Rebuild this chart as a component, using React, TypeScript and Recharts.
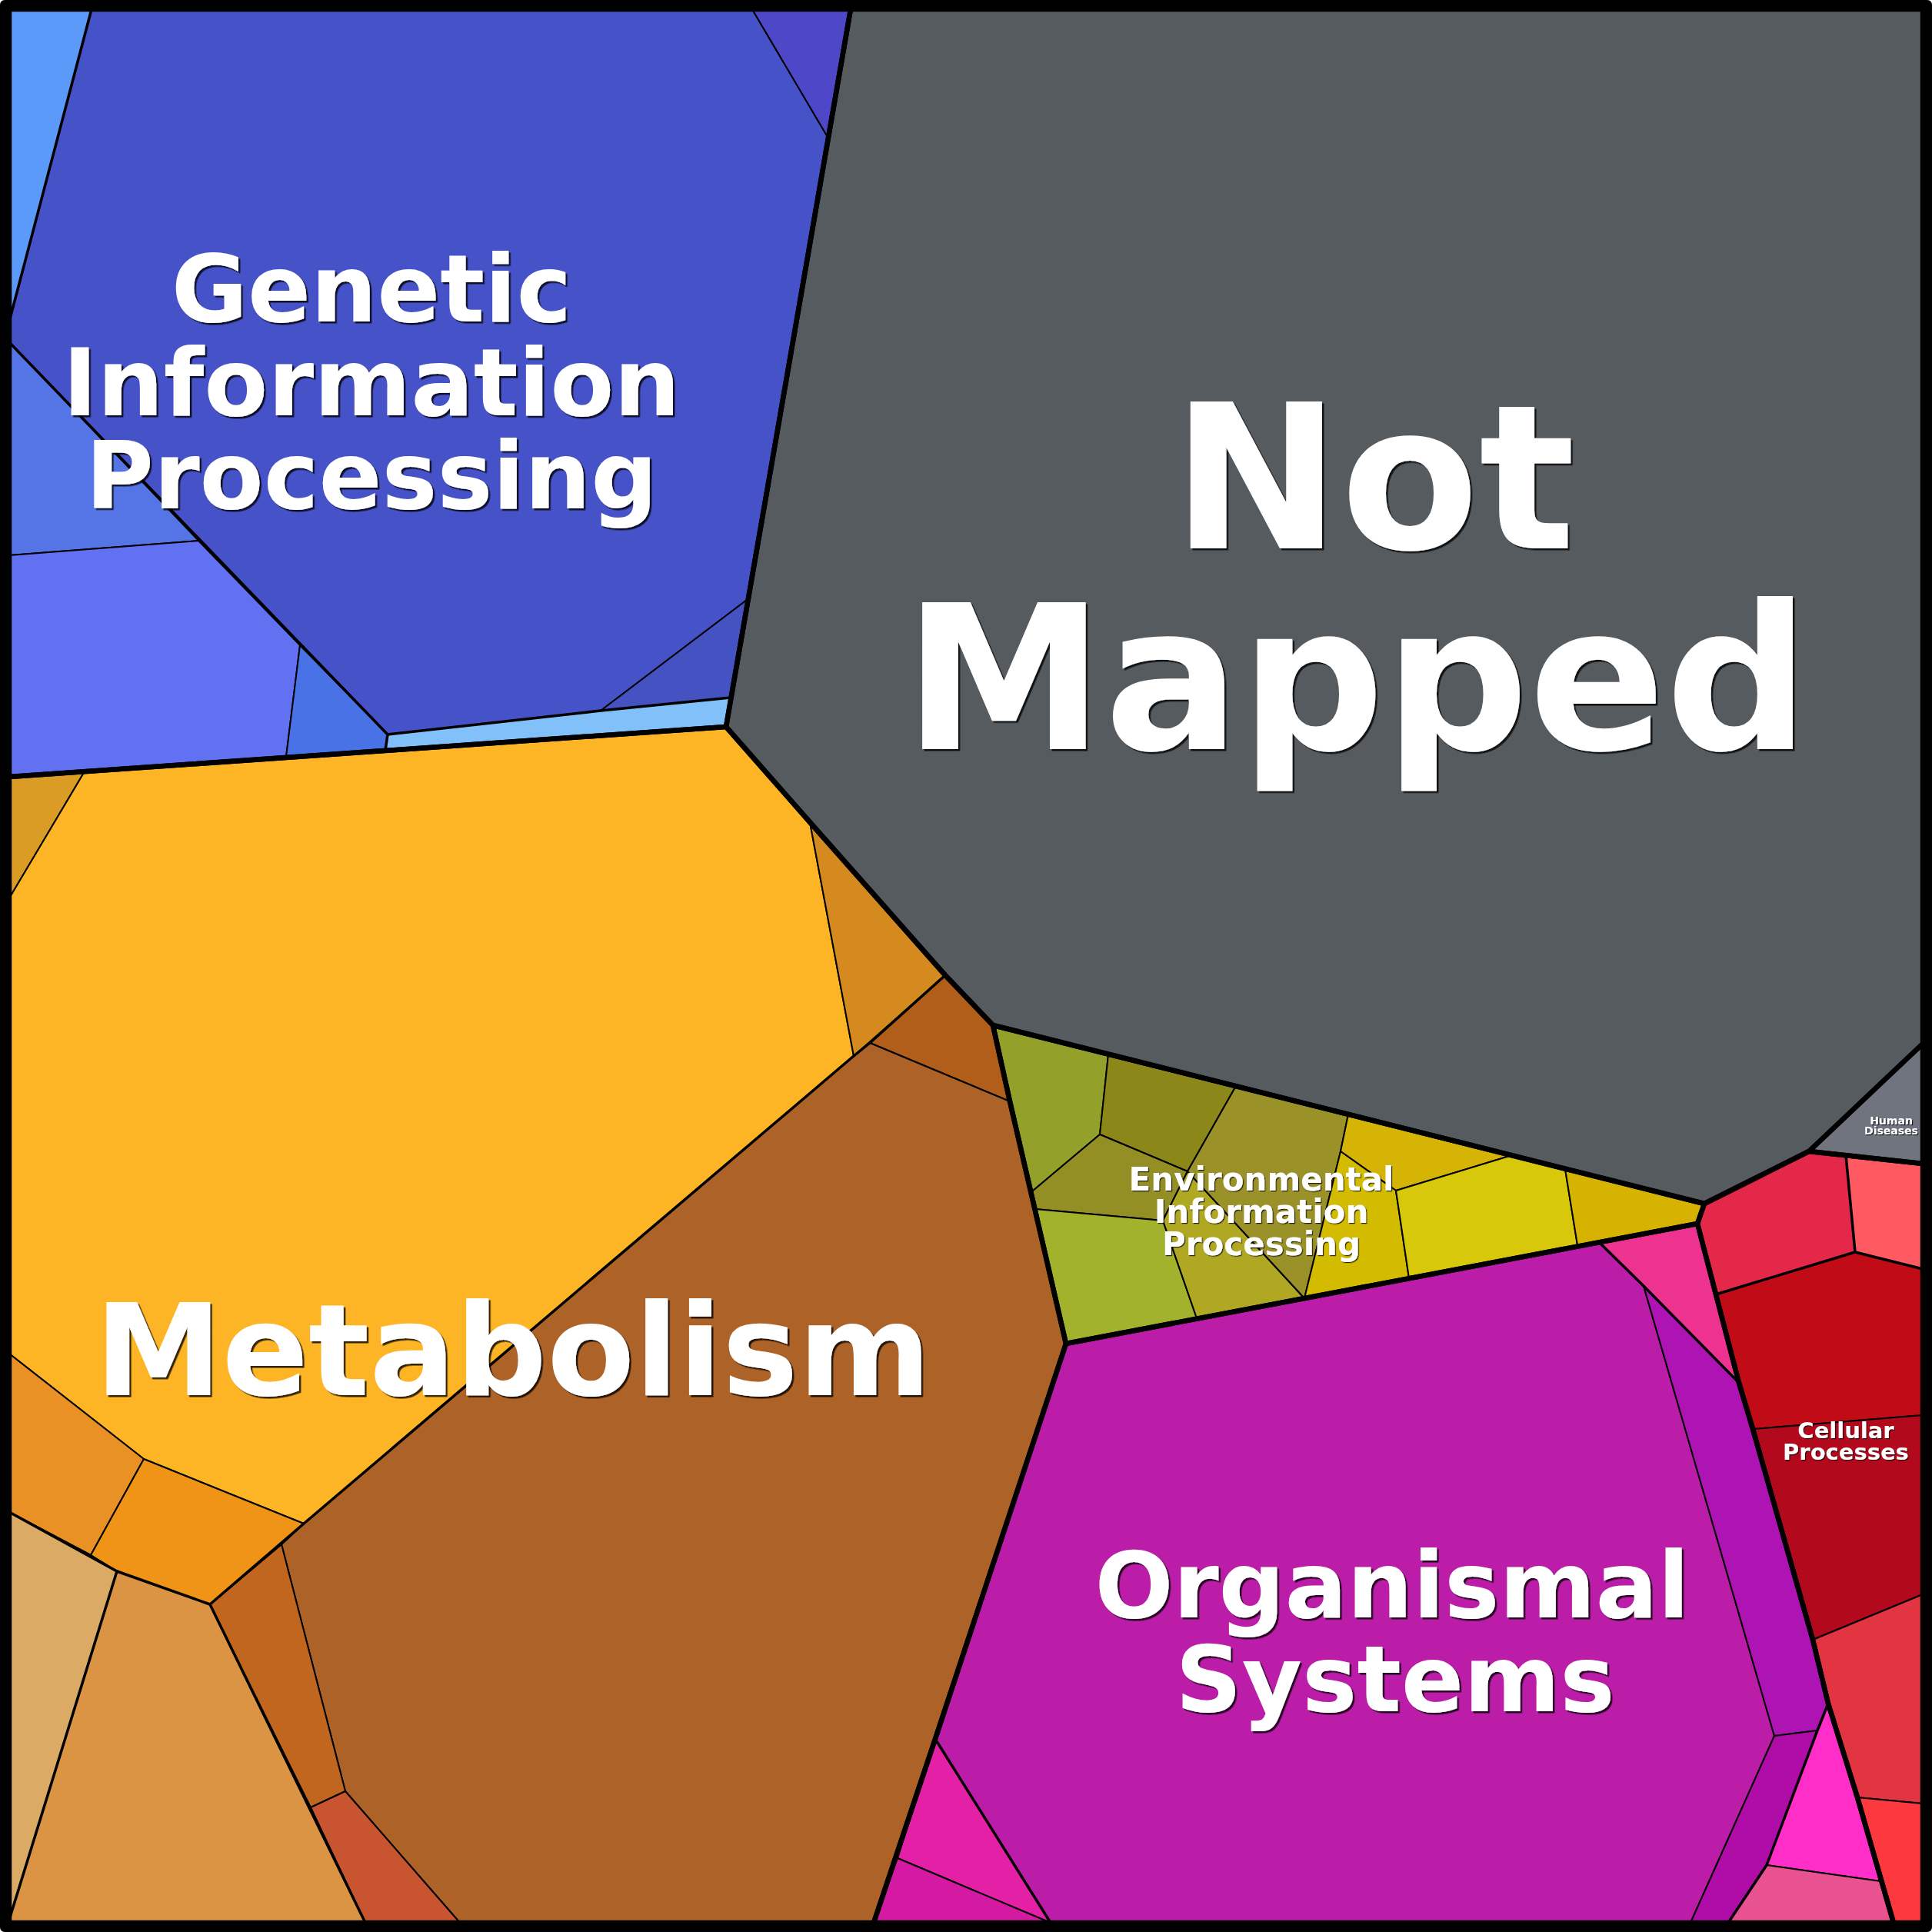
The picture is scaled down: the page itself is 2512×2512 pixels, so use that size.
import React from 'react';
import { ScatterChart, Scatter, XAxis, YAxis } from 'recharts';

type Pt = [number, number];

const SIZE = 2512;

// ---------- Voronoi cell vertices (pixel-space data, chart units) ----------
// Genetic Information Processing
const geneticCells: Pt[][] = [
  [[12, 12], [119, 12], [12, 418]],
  [[119, 12], [978, 12], [1076, 178], [971, 780], [781, 924], [504, 955], [12, 445], [12, 418]],
  [[978, 12], [1106, 12], [1076, 178]],
  [[781, 924], [971, 780], [950, 907]],
  [[504, 955], [781, 924], [950, 907], [944, 945], [501, 976]],
  [[12, 445], [258, 703], [12, 722]],
  [[12, 722], [258, 703], [390, 839], [372, 984], [12, 1010]],
  [[390, 839], [504, 955], [501, 976], [372, 984]],
];
const geneticColors = ['#5b9af8', '#4652c8', '#4e47c8', '#4552c2', '#82c0fa', '#5574e6', '#6271f2', '#4872e6'];

// Not Mapped + Human Diseases
const notMappedCells: Pt[][] = [
  [[1106, 12], [2500, 12], [2500, 1357], [2352, 1497], [2216, 1565], [1291, 1333], [1229, 1268], [1053, 1069], [944, 945]],
];
const notMappedColors = ['#565b60'];
const humanDiseaseCells: Pt[][] = [[[2500, 1357], [2500, 1513], [2352, 1497]]];
const humanDiseaseColors = ['#70747f'];

// Metabolism
const metabolismCells: Pt[][] = [
  [[12, 1010], [110, 1003], [12, 1168]],
  [[110, 1003], [944, 945], [1053, 1069], [1110, 1373], [395, 1981], [187, 1897], [12, 1760], [12, 1168]],
  [[1053, 1069], [1229, 1268], [1110, 1373]],
  [[1229, 1268], [1291, 1333], [1313, 1432], [1131, 1356]],
  [[1110, 1373], [1131, 1356], [1313, 1432], [1386, 1747], [1216, 2261], [1136, 2500], [598, 2500], [449, 2329], [366, 2008], [395, 1981]],
  [[273, 2086], [366, 2008], [449, 2329], [404, 2350]],
  [[404, 2350], [449, 2329], [598, 2500], [475, 2500]],
  [[12, 1760], [187, 1897], [118, 2022], [12, 1966]],
  [[187, 1897], [395, 1981], [366, 2008], [273, 2086], [152, 2043], [118, 2022]],
  [[12, 1966], [118, 2022], [152, 2043], [12, 2496]],
  [[152, 2043], [273, 2086], [475, 2500], [12, 2500], [12, 2496]],
];
const metabolismColors = ['#da9c24', '#fdb525', '#d48a1e', '#b15e1a', '#ad6228', '#c0661e', '#c85530', '#e99124', '#ef9416', '#dbaa64', '#da9444'];

// Environmental Information Processing
const environmentalCells: Pt[][] = [
  [[1291, 1333], [1441, 1371], [1430, 1475], [1342, 1549]],
  [[1441, 1371], [1607, 1412], [1544, 1523], [1430, 1475]],
  [[1342, 1549], [1430, 1475], [1544, 1523], [1512, 1587], [1346, 1572]],
  [[1346, 1572], [1512, 1587], [1556, 1714], [1386, 1747]],
  [[1512, 1587], [1544, 1523], [1696, 1688], [1556, 1714]],
  [[1607, 1412], [1753, 1449], [1743, 1497], [1696, 1688], [1544, 1523]],
  [[1753, 1449], [1966, 1502], [1815, 1548], [1743, 1497]],
  [[1743, 1497], [1815, 1548], [1832, 1662], [1696, 1688]],
  [[1815, 1548], [1966, 1502], [2035, 1520], [2051, 1619], [1832, 1662]],
  [[2035, 1520], [2216, 1565], [2207, 1591], [2051, 1619]],
];
const environmentalColors = ['#93a12a', '#8b8719', '#948f24', '#a2b22c', '#b0a822', '#9a9128', '#d6b406', '#d3bc00', '#d7c80b', '#d6b300'];

// Organismal Systems
const organismalCells: Pt[][] = [
  [[1386, 1747], [2079, 1615], [2137, 1672], [2307, 2257], [2198, 2500], [1366, 2500], [1216, 2261]],
  [[2079, 1615], [2207, 1591], [2231, 1683], [2261, 1798], [2137, 1672]],
  [[2137, 1672], [2261, 1798], [2279, 1858], [2357, 2132], [2377, 2215], [2363, 2250], [2307, 2257]],
  [[2307, 2257], [2363, 2250], [2297, 2425], [2247, 2500], [2198, 2500]],
  [[2377, 2215], [2415, 2337], [2445, 2446], [2297, 2425], [2363, 2250]],
  [[2297, 2425], [2445, 2446], [2462, 2500], [2247, 2500]],
  [[1216, 2261], [1366, 2500], [1167, 2416]],
  [[1167, 2416], [1366, 2500], [1136, 2500]],
];
const organismalColors = ['#bb1da8', '#ee3290', '#ae13b4', '#b00ca8', '#ff2ec8', '#e85290', '#e320a6', '#d41aa2'];

// Cellular Processes
const cellularCells: Pt[][] = [
  [[2216, 1565], [2352, 1497], [2400, 1502], [2412, 1628], [2231, 1683], [2207, 1591]],
  [[2400, 1502], [2500, 1513], [2500, 1650], [2412, 1628]],
  [[2231, 1683], [2412, 1628], [2500, 1650], [2500, 1840], [2279, 1858], [2261, 1798]],
  [[2279, 1858], [2500, 1840], [2500, 2073], [2357, 2132]],
  [[2357, 2132], [2500, 2073], [2500, 2345], [2415, 2337], [2377, 2215]],
  [[2415, 2337], [2500, 2345], [2500, 2500], [2462, 2500]],
];
const cellularColors = ['#e3284a', '#ff5a62', '#c10c18', '#b20a1c', '#e33442', '#fd383e'];

// Second-level boundaries (medium lines)
const subgroupLines: Pt[][] = [
  [[119, 12], [12, 418]],
  [[12, 445], [504, 955], [781, 924], [950, 907]],
  [[504, 955], [501, 976]],
  [[12, 1966], [152, 2043], [273, 2086], [395, 1981], [1110, 1373], [1131, 1356], [1229, 1268]],
  [[152, 2043], [12, 2496]],
  [[273, 2086], [475, 2500]],
  [[1216, 2261], [1366, 2500]],
  [[2377, 2215], [2363, 2250], [2297, 2425], [2247, 2500]],
  [[2079, 1615], [2137, 1672], [2261, 1798]],
  [[2400, 1502], [2412, 1628], [2500, 1650]],
  [[2412, 1628], [2231, 1683]],
];

// Top-level group outlines (thick lines)
const groupOutlines: Pt[][] = [
  [[12, 12], [1106, 12], [944, 945], [501, 976], [12, 1010]],
  [[1106, 12], [2500, 12], [2500, 1357], [2352, 1497], [2216, 1565], [1291, 1333], [1229, 1268], [1053, 1069], [944, 945]],
  [[2500, 1357], [2500, 1513], [2352, 1497]],
  [[12, 1010], [944, 945], [1053, 1069], [1229, 1268], [1291, 1333], [1313, 1432], [1386, 1747], [1216, 2261], [1136, 2500], [12, 2500]],
  [[1291, 1333], [2216, 1565], [2207, 1591], [1386, 1747], [1313, 1432]],
  [[1386, 1747], [2207, 1591], [2231, 1683], [2261, 1798], [2279, 1858], [2357, 2132], [2377, 2215], [2415, 2337], [2462, 2500], [1136, 2500], [1216, 2261]],
  [[2216, 1565], [2352, 1497], [2500, 1513], [2500, 2500], [2462, 2500], [2415, 2337], [2377, 2215], [2357, 2132], [2279, 1858], [2261, 1798], [2231, 1683], [2207, 1591]],
];

const framePoints: Pt[] = [[6, 6], [2506, 6], [2506, 2506], [6, 2506]];

// Labels
const groupNames: string[][] = [
  ['Genetic', 'Information', 'Processing'],
  ['Not', 'Mapped'],
  ['Metabolism'],
  ['Organismal', 'Systems'],
  ['Environmental', 'Information', 'Processing'],
  ['Cellular', 'Processes'],
  ['Human', 'Diseases'],
];
const labelAnchors: Pt[] = [[483, 418], [1770, 713], [667, 1814], [1810, 2103], [1640, 1548], [2400, 1870], [2459, 1462]];
const labelLineShift: number[][] = [[0, 0, 0], [16, -6], [0], [0, 4], [0, 0, 0], [0, 0], [0, 0]];
const labelFontSizes = [121, 262, 166, 120, 42, 29, 14];
const labelLineHeights = [121.5, 261, 0, 122, 42, 28, 13];

const FONT = "'DejaVu Sans', 'Noto Sans', sans-serif";

const toPath = (pts: { x: number; y: number }[], close: boolean) =>
  pts.map((p, i) => `${i ? 'L' : 'M'}${p.x},${p.y}`).join(' ') + (close ? ' Z' : '');

const NoDot = () => <g />;

function polySeries(key: string, pts: Pt[], fill: string, stroke: string, width: number, close: boolean) {
  const data = pts.map(([x, y]) => ({ x, y }));
  return (
    <Scatter
      key={key}
      data={data}
      isAnimationActive={false}
      shape={NoDot}
      line={(lp: any) => (
        <path
          d={toPath(lp.points, close)}
          fill={fill}
          stroke={stroke}
          strokeWidth={width}
          strokeLinejoin="round"
          strokeLinecap="round"
        />
      )}
    />
  );
}

const LabelShape = (props: any) => {
  const { cx, cy, payload } = props;
  const { lines, size, lh, shift, idx } = payload;
  const fid = `lblshadow-${idx}`;
  const off = size > 60 ? 2.5 : 1.2;
  return (
    <g>
      <defs>
        <filter id={fid} x="-10%" y="-10%" width="120%" height="130%">
          <feDropShadow dx={off} dy={off} stdDeviation={0.3} floodColor="#000" floodOpacity={0.8} />
        </filter>
      </defs>
      <text
        textAnchor="middle"
        fontFamily={FONT}
        fontWeight="bold"
        fontSize={size}
        fill="#ffffff"
        filter={`url(#${fid})`}
      >
        {lines.map((t: string, i: number) => (
          <tspan key={i} x={cx + (shift[i] || 0)} y={cy + i * lh}>
            {t}
          </tspan>
        ))}
      </text>
    </g>
  );
};

export default function App() {
  const cellSets: [Pt[][], string[]][] = [
    [geneticCells, geneticColors],
    [notMappedCells, notMappedColors],
    [humanDiseaseCells, humanDiseaseColors],
    [metabolismCells, metabolismColors],
    [environmentalCells, environmentalColors],
    [organismalCells, organismalColors],
    [cellularCells, cellularColors],
  ];
  const labelData = groupNames.map((lines, i) => ({
    x: labelAnchors[i][0],
    y: labelAnchors[i][1],
    lines,
    size: labelFontSizes[i],
    lh: labelLineHeights[i],
    shift: labelLineShift[i],
    idx: i,
  }));

  return (
    <div style={{ width: SIZE, height: SIZE }}>
      <style>{'body{margin:0;}'}</style>
      <ScatterChart width={SIZE} height={SIZE} margin={{ top: 0, right: 0, bottom: 0, left: 0 }}>
        <XAxis type="number" dataKey="x" domain={[0, SIZE]} hide allowDataOverflow />
        <YAxis type="number" dataKey="y" domain={[0, SIZE]} hide reversed allowDataOverflow />
        {cellSets.flatMap(([cells, colors], g) =>
          cells.map((pts, i) => polySeries(`c-${g}-${i}`, pts, colors[i], '#000', 2, true))
        )}
        {subgroupLines.map((pts, i) => polySeries(`m-${i}`, pts, 'none', '#000', 3.5, false))}
        {groupOutlines.map((pts, i) => polySeries(`g-${i}`, pts, 'none', '#000', 6.5, true))}
        {polySeries('frame', framePoints, 'none', '#000', 12, true)}
        <Scatter data={labelData} isAnimationActive={false} shape={LabelShape} />
      </ScatterChart>
    </div>
  );
}
